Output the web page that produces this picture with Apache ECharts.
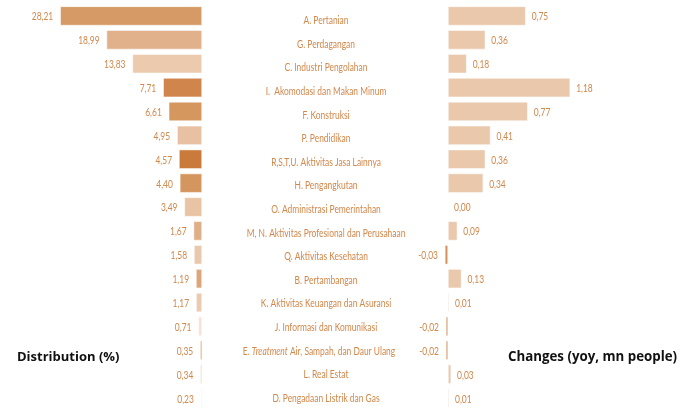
<!DOCTYPE html>
<html>
<head>
<meta charset="utf-8">
<script src="https://cdn.jsdelivr.net/npm/echarts@6/dist/echarts.min.js"></script>
<style>html,body{margin:0;padding:0;background:#fff;}#c{width:697px;height:410px;}</style>
</head>
<body>
<div id="c"></div>
<script>
var categories = ['A. Pertanian','G. Perdagangan','C. Industri Pengolahan','I.  Akomodasi dan Makan Minum','F. Konstruksi','P. Pendidikan','R,S,T,U. Aktivitas Jasa Lainnya','H. Pengangkutan','O. Administrasi Pemerintahan','M, N. Aktivitas Profesional dan Perusahaan','Q. Aktivitas Kesehatan','B. Pertambangan','K. Aktivitas Keuangan dan Asuransi','J. Informasi dan Komunikasi','E. Treatment Air, Sampah, dan Daur Ulang','L. Real Estat','D. Pengadaan Listrik dan Gas'];
var distribution = [28.21,18.99,13.83,7.71,6.61,4.95,4.57,4.40,3.49,1.67,1.58,1.19,1.17,0.71,0.35,0.34,0.23];
var changes = [0.75,0.36,0.18,1.18,0.77,0.41,0.36,0.34,0.00,0.09,-0.03,0.13,0.01,-0.02,-0.02,0.03,0.01];
var distColors = ['#D69A66','#E0B18A','#EBCAAE','#D0854C','#D6975F','#E8C1A2','#CA7A3A','#D4955E','#E8C3A4','#DFAF87','#E9C9AE','#DDA67A','#EBCAB0','#F4E2D6','#D88F55','#EDD0B8','#F6E8DE'];
var posColor = '#EAC8AC', negColor = '#D4915A';
var txtColor = '#D2874B';
var LBL_FONT = 'Lato';
var LBL_SIZE = 10.8;
var SQUEEZE = 0.78;
function fmt(v){ return v.toFixed(2).replace('.', ','); }

function textEl(x, y, text, align, rich){
  var st = {text:text, x:0, y:0, align:align, textAlign:align, verticalAlign:'middle', textVerticalAlign:'middle',
    fontFamily:LBL_FONT, fontSize:LBL_SIZE, fill:txtColor};
  if (rich) st.rich = rich;
  return {type:'text', x:x, y:y, scaleX:SQUEEZE, scaleY:1, style:st, silent:true};
}

var chart = echarts.init(document.getElementById('c'), null, {renderer:'canvas'});
var option = {
  animation: false,
  backgroundColor: '#fff',
  title: [
    {text:'Distribution (%)', left:17, top:351, padding:0, textStyle:{fontFamily:'Open Sans', fontWeight:'bold', fontSize:13, color:'#111'}},
    {text:'Changes (yoy, mn people)', left:508, top:351, padding:0, textStyle:{fontFamily:'Open Sans', fontWeight:'bold', fontSize:13.3, color:'#111'}}
  ],
  grid: [
    {left:1, width:201, top:4, height:406},
    {left:250, width:152, top:9, height:405},
    {left:427.3, width:227.7, top:4, height:406}
  ],
  xAxis: [
    {gridIndex:0, type:'value', min:0, max:40, inverse:true, show:false},
    {gridIndex:1, type:'value', min:0, max:1, show:false},
    {gridIndex:2, type:'value', min:-0.2, max:2.0, show:false}
  ],
  yAxis: [
    {gridIndex:0, type:'category', data:categories, inverse:true, show:false},
    {gridIndex:1, type:'category', data:categories, inverse:true, show:false},
    {gridIndex:2, type:'category', data:categories, inverse:true, show:false}
  ],
  series: [
    {type:'bar', xAxisIndex:0, yAxisIndex:0, barCategoryGap:'20%',
      data: distribution.map(function(v,i){ return {value:v, itemStyle:{color:distColors[i]}}; }),
      itemStyle:{borderColor:'#fff', borderWidth:0.5}
    },
    {type:'bar', xAxisIndex:2, yAxisIndex:2, barCategoryGap:'20%',
      data: changes.map(function(v){ return {value:v, itemStyle:{color: v<0?negColor:posColor}}; }),
      itemStyle:{borderColor:'#fff', borderWidth:0.5}
    },
    {type:'custom', xAxisIndex:0, yAxisIndex:0, clip:false, silent:true,
      data: distribution.map(function(v,i){ return [v, i]; }),
      renderItem:function(params, api){
        var p = api.coord([api.value(0), api.value(1)]);
        return textEl(p[0]-7, p[1]+1, fmt(api.value(0)), 'right');
      }
    },
    {type:'custom', xAxisIndex:1, yAxisIndex:1, clip:false, silent:true,
      data: categories.map(function(c,i){ return [0.5, i]; }),
      renderItem:function(params, api){
        var idx = api.value(1);
        var p = api.coord([0.5, idx]);
        var name = categories[idx];
        if (name.indexOf('Treatment') >= 0) {
          var rich = {n:{fontFamily:LBL_FONT, fontSize:LBL_SIZE, fill:txtColor, color:txtColor},
                      i:{fontFamily:LBL_FONT, fontSize:LBL_SIZE, fill:txtColor, color:txtColor, fontStyle:'italic'}};
          return textEl(p[0]-7, p[1], '{n|E. }{i|Treatment}{n| Air, Sampah, dan Daur Ulang}', 'center', rich);
        }
        return textEl(p[0], p[1], name, 'center');
      }
    },
    {type:'custom', xAxisIndex:2, yAxisIndex:2, clip:false, silent:true,
      data: changes.map(function(v,i){ return [v, i]; }),
      renderItem:function(params, api){
        var v = api.value(0);
        var p = api.coord([v, api.value(1)]);
        if (v < 0) return textEl(p[0]-7, p[1]+1, fmt(v), 'right');
        return textEl(p[0]+6, p[1]+1, fmt(v), 'left');
      }
    }
  ]
};
chart.setOption(option);
</script>
</body>
</html>
